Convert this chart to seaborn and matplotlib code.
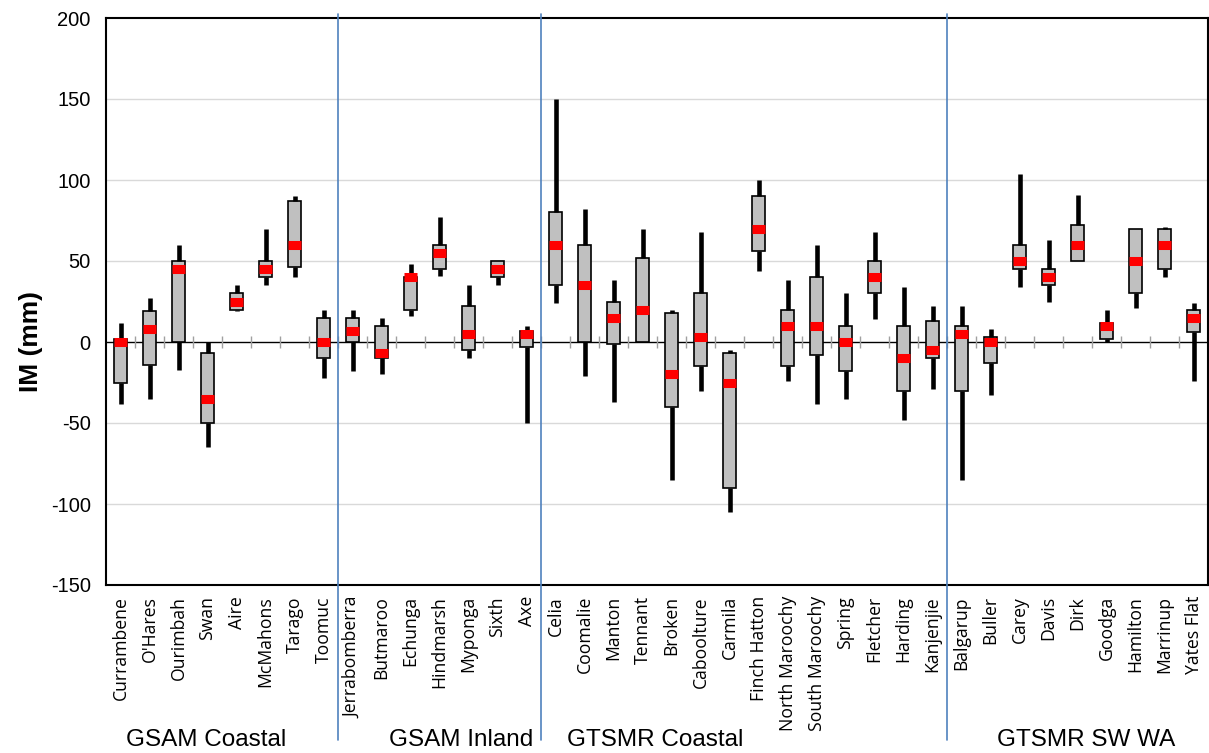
import numpy as np
import pandas as pd
import matplotlib
matplotlib.use("Agg")
import matplotlib.pyplot as plt
import matplotlib.transforms as mtransforms
import seaborn as sns

# Sites in plotting order, grouped by region
sites = [
    "Currambene", "O'Hares", "Ourimbah", "Swan", "Aire", "McMahons", "Tarago", "Toomuc",
    "Jerrabomberra", "Butmaroo", "Echunga", "Hindmarsh", "Myponga", "Sixth", "Axe",
    "Celia", "Coomalie", "Manton", "Tennant", "Broken", "Caboolture", "Carmila",
    "Finch Hatton", "North Maroochy", "South Maroochy", "Spring", "Fletcher", "Harding", "Kanjenjie",
    "Balgarup", "Buller", "Carey", "Davis", "Dirk", "Goodga", "Hamilton", "Marrinup", "Yates Flat",
]

# Five-number summary of IM (mm) per site
whisker_low = [-38, -35, -17, -65, 19, 35, 40, -22,
               -18, -20, 16, 41, -10, 35, -50,
               24, -21, -37, 0, -85, -30, -105, 44, -24, -38, -35, 14, -48, -29,
               -85, -33, 34, 25, 50, 0, 21, 40, -24]
box_low = [-25, -14, 0, -50, 20, 40, 46, -10,
           0, -10, 20, 45, -5, 40, -3,
           35, 0, -1, 0, -40, -15, -90, 56, -15, -8, -18, 30, -30, -10,
           -30, -13, 45, 35, 50, 2, 30, 45, 6]
median = [0, 8, 45, -35, 25, 45, 60, 0,
          7, -7, 40, 55, 5, 45, 5,
          60, 35, 15, 20, -20, 3, -25, 70, 10, 10, 0, 40, -10, -5,
          5, 0, 50, 40, 60, 10, 50, 60, 15]
box_high = [2, 19, 50, -7, 30, 50, 87, 15,
            15, 10, 40, 60, 22, 50, 7,
            80, 60, 25, 52, 18, 30, -7, 90, 20, 40, 10, 50, 10, 13,
            10, 3, 60, 45, 72, 12, 70, 70, 20]
whisker_high = [12, 27, 60, 0, 35, 70, 90, 20,
                20, 15, 48, 77, 35, 50, 10,
                150, 82, 38, 70, 20, 68, -5, 100, 38, 60, 30, 68, 34, 22,
                22, 8, 104, 63, 91, 20, 70, 71, 24]

groups = ["GSAM Coastal", "GSAM Inland", "GTSMR Coastal", "GTSMR SW WA"]
group_sizes = [8, 7, 14, 9]
group_label_x = [2.95, 11.75, 18.45, 33.3]
y_ticks = [-150, -100, -50, 0, 50, 100, 150, 200]

sns.set_style("white")
plt.rcParams["font.family"] = ["Liberation Sans", "DejaVu Sans"]
plt.rcParams["axes.unicode_minus"] = False
plt.rcParams["text.color"] = "black"
plt.rcParams["axes.labelcolor"] = "black"

# Long-form table: five summary values for each site
summary = np.column_stack([whisker_low, box_low, median, box_high, whisker_high])
df = pd.DataFrame({"site": np.repeat(sites, 5), "IM": summary.ravel()})

W, H = 1209, 753
fig = plt.figure(figsize=(W / 100, H / 100), dpi=100)
ax = fig.add_axes([106 / W, 1 - 585 / H, (1208 - 106) / W, (585 - 18) / H])

# background gridlines, zero line and category ticks on the zero line
for y in [-100, -50, 50, 100, 150]:
    ax.axhline(y, color="#D9D9D9", lw=1, zorder=0)
ax.axhline(0, color="black", lw=1, zorder=1)
ax.vlines(np.arange(0.5, len(sites) - 0.5, 1), -4, 4, color="#A0A0A0", lw=1, zorder=1)

sns.boxplot(
    data=df, x="site", y="IM", order=sites, whis=(0, 100),
    width=0.42, color="#C0C0C0", saturation=1, linecolor="black", linewidth=1.2,
    showcaps=False, showfliers=False,
    whiskerprops=dict(linewidth=3.3, solid_capstyle="butt"),
    medianprops=dict(color="#FF0000", linewidth=6.5, solid_capstyle="butt"),
    ax=ax,
)

ax.set_xlim(-0.5, len(sites) - 0.5)
ax.set_ylim(-150, 200)
ax.set_yticks(y_ticks)
ax.set_xticks(range(len(sites)))
ax.set_xticklabels(sites, rotation=90, fontfamily="Open Sans", fontsize=12.7)
ax.set_xlabel("")
ax.set_ylabel("IM (mm)", fontsize=19, fontweight="bold")
ax.yaxis.set_label_coords(-0.057, 0.4286)
ax.tick_params(axis="x", length=0, pad=8, labelcolor="black")
ax.tick_params(axis="y", direction="inout", length=10, width=1, color="#404040",
               labelsize=14.5, pad=6, labelcolor="black")
for s in ax.spines.values():
    s.set_visible(True)
    s.set_color("black")
    s.set_linewidth(1.5)

# region separators running through the labels
sep_trans = mtransforms.blended_transform_factory(ax.transData, ax.transAxes)
for b in np.cumsum(group_sizes)[:-1] - 0.5:
    ax.plot([b, b], [1.007, -0.273], transform=sep_trans, color="#4F81BD",
            lw=1.2, clip_on=False, zorder=5)

# region names below the site labels
lab_trans = mtransforms.blended_transform_factory(ax.transData, fig.transFigure)
for name, gx in zip(groups, group_label_x):
    ax.text(gx, 13 / H, name, transform=lab_trans, ha="center", va="center",
            fontsize=17.5, family=["Liberation Sans"], color="black")

fig.savefig("out.png", dpi=100)
